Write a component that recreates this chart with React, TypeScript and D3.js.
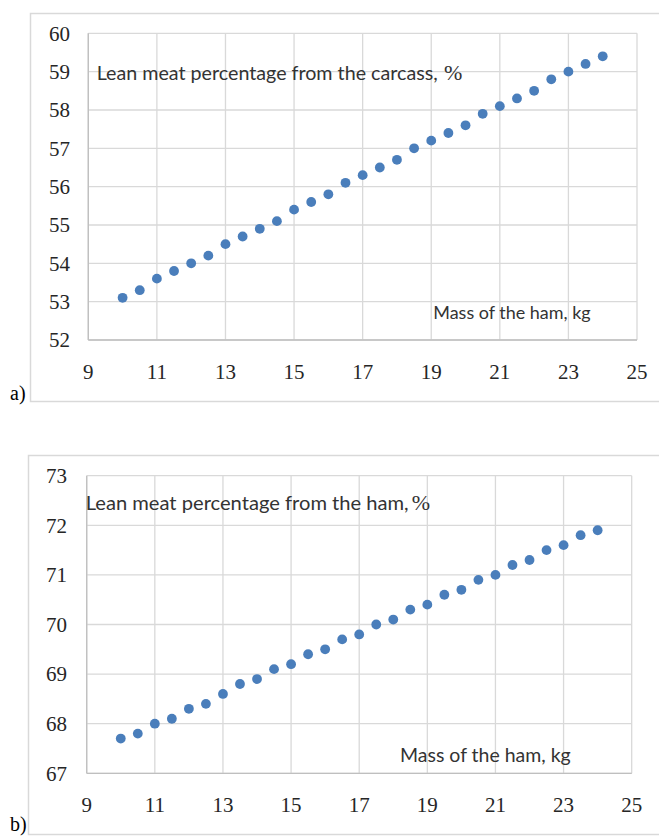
import React, { useEffect, useRef } from "react";
import * as d3 from "d3";

// mass of the ham, kg (same for both panels)
const massKg = [
  10, 10.5, 11, 11.5, 12, 12.5, 13, 13.5, 14, 14.5, 15, 15.5, 16, 16.5, 17,
  17.5, 18, 18.5, 19, 19.5, 20, 20.5, 21, 21.5, 22, 22.5, 23, 23.5, 24,
];
// a) lean meat from the carcass, %
const carcassLean = [
  53.1, 53.3, 53.6, 53.8, 54.0, 54.2, 54.5, 54.7, 54.9, 55.1, 55.4, 55.6, 55.8,
  56.1, 56.3, 56.5, 56.7, 57.0, 57.2, 57.4, 57.6, 57.9, 58.1, 58.3, 58.5, 58.8,
  59.0, 59.2, 59.4,
];
// b) lean meat from the ham, %
const hamLean = [
  67.7, 67.8, 68.0, 68.1, 68.3, 68.4, 68.6, 68.8, 68.9, 69.1, 69.2, 69.4, 69.5,
  69.7, 69.8, 70.0, 70.1, 70.3, 70.4, 70.6, 70.7, 70.9, 71.0, 71.2, 71.3, 71.5,
  71.6, 71.8, 71.9,
];
const massTicks = [9, 11, 13, 15, 17, 19, 21, 23, 25];
const carcassTicks = [52, 53, 54, 55, 56, 57, 58, 59, 60];
const hamTicks = [67, 68, 69, 70, 71, 72, 73];

const serif = '"Liberation Serif", "Times New Roman", serif';
const sans = 'Lato, "Open Sans", sans-serif';
const dotColor = "#4a7ebb";
const gridColor = "#d9d9d9";

const panels = [
  {
    values: carcassLean,
    yTicks: carcassTicks,
    frame: { x: 30, y: 13, w: 650, h: 388 },
    plot: { left: 88.3, top: 33.3, right: 637, bottom: 340 },
    title: "Lean meat percentage from the carcass,",
    titleX: 96.7,
    titleY: 80,
    titleW: 341,
    titleSize: 19,
    pctX: 444,
    mass: "Mass of the ham, kg",
    massX: 433.3,
    massY: 319,
    massW: 157.4,
    massSize: 17.5,
    tag: "a)",
    tagY: 400,
    yLabelX: 70,
  },
  {
    values: hamLean,
    yTicks: hamTicks,
    frame: { x: 28, y: 455, w: 650, h: 379 },
    plot: { left: 86.7, top: 475.7, right: 631.7, bottom: 773.3 },
    title: "Lean meat percentage from the ham,",
    titleX: 85.7,
    titleY: 510,
    titleW: 323,
    titleSize: 20,
    pctX: 411.7,
    mass: "Mass of the ham, kg",
    massX: 400,
    massY: 762,
    massW: 170.7,
    massSize: 19,
    tag: "b)",
    tagY: 831,
    yLabelX: 67,
  },
];

function drawPanel(svg: any, p: any) {
  const g = svg.append("g");

  // outer chart frame
  g.append("rect")
    .attr("x", p.frame.x + 0.5)
    .attr("y", p.frame.y + 0.5)
    .attr("width", p.frame.w)
    .attr("height", p.frame.h)
    .attr("fill", "none")
    .attr("stroke", gridColor)
    .attr("stroke-width", 1.5);

  const x = d3
    .scaleLinear()
    .domain([massTicks[0], massTicks[massTicks.length - 1]])
    .range([p.plot.left, p.plot.right]);
  const y = d3
    .scaleLinear()
    .domain([p.yTicks[0], p.yTicks[p.yTicks.length - 1]])
    .range([p.plot.bottom, p.plot.top]);

  // grid
  g.selectAll(".vgrid")
    .data(massTicks)
    .enter()
    .append("line")
    .attr("x1", (d: number) => x(d))
    .attr("x2", (d: number) => x(d))
    .attr("y1", p.plot.top)
    .attr("y2", p.plot.bottom)
    .attr("stroke", gridColor)
    .attr("stroke-width", 1.3);
  g.selectAll(".hgrid")
    .data(p.yTicks)
    .enter()
    .append("line")
    .attr("x1", p.plot.left)
    .attr("x2", p.plot.right)
    .attr("y1", (d: number) => y(d))
    .attr("y2", (d: number) => y(d))
    .attr("stroke", gridColor)
    .attr("stroke-width", 1.3);

  // axis lines
  g.append("line")
    .attr("x1", p.plot.left)
    .attr("x2", p.plot.right)
    .attr("y1", p.plot.bottom)
    .attr("y2", p.plot.bottom)
    .attr("stroke", "#bfbfbf")
    .attr("stroke-width", 1.3);
  g.append("line")
    .attr("x1", p.plot.left)
    .attr("x2", p.plot.left)
    .attr("y1", p.plot.top)
    .attr("y2", p.plot.bottom)
    .attr("stroke", "#bfbfbf")
    .attr("stroke-width", 1.3);

  // tick labels
  g.selectAll(".ylab")
    .data(p.yTicks)
    .enter()
    .append("text")
    .attr("x", p.yLabelX)
    .attr("y", (d: number) => y(d))
    .attr("dy", "0.35em")
    .attr("text-anchor", "end")
    .style("font-family", serif)
    .style("font-size", "21px")
    .style("fill", "#262626")
    .text((d: number) => d);
  g.selectAll(".xlab")
    .data(massTicks)
    .enter()
    .append("text")
    .attr("x", (d: number) => x(d))
    .attr("y", p.plot.bottom + 31.7)
    .attr("dy", "0.35em")
    .attr("text-anchor", "middle")
    .style("font-family", serif)
    .style("font-size", "21px")
    .style("fill", "#262626")
    .text((d: number) => d);

  // in-plot labels
  g.append("text")
    .attr("x", p.titleX)
    .attr("y", p.titleY)
    .attr("textLength", p.titleW)
    .attr("lengthAdjust", "spacingAndGlyphs")
    .style("font-family", sans)
    .style("font-size", p.titleSize + "px")
    .style("fill", "#333333")
    .text(p.title);
  g.append("text")
    .attr("x", p.pctX)
    .attr("y", p.titleY)
    .style("font-family", serif)
    .style("font-size", "22px")
    .style("fill", "#333333")
    .text("%");
  g.append("text")
    .attr("x", p.massX)
    .attr("y", p.massY)
    .attr("textLength", p.massW)
    .attr("lengthAdjust", "spacingAndGlyphs")
    .style("font-family", sans)
    .style("font-size", p.massSize + "px")
    .style("fill", "#333333")
    .text(p.mass);

  g.append("text")
    .attr("x", 10)
    .attr("y", p.tagY)
    .style("font-family", serif)
    .style("font-size", "20px")
    .style("fill", "#000")
    .text(p.tag);

  // points
  g.selectAll(".dot")
    .data(massKg)
    .enter()
    .append("circle")
    .attr("cx", (d: number) => x(d))
    .attr("cy", (_: number, i: number) => y(p.values[i]))
    .attr("r", 4.9)
    .attr("fill", dotColor);
}

export default function App() {
  const ref = useRef<SVGSVGElement>(null);

  useEffect(() => {
    const svg = d3.select(ref.current);
    svg.selectAll("*").remove();
    panels.forEach((p) => drawPanel(svg, p));
  });

  return (
    <svg
      ref={ref}
      width={659}
      height={837}
      style={{ position: "absolute", left: 0, top: 0, background: "#fff" }}
    />
  );
}
